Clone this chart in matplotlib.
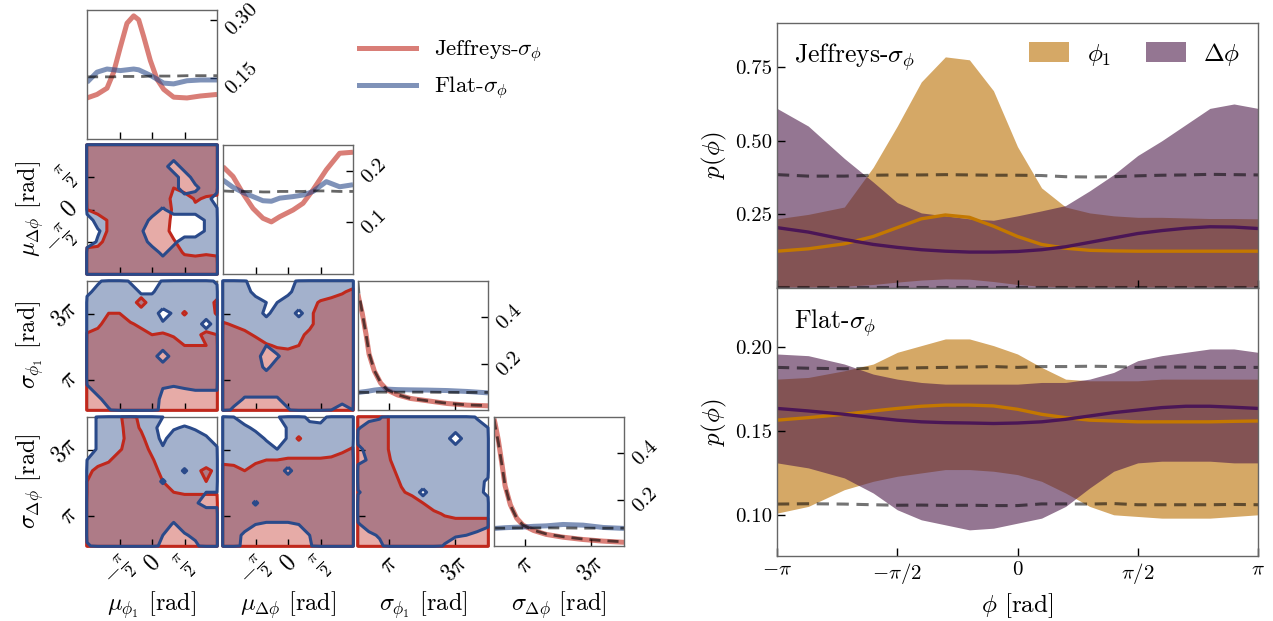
import numpy as np
import matplotlib
matplotlib.use("Agg")
import matplotlib.pyplot as plt
from matplotlib.patches import Patch
from matplotlib.lines import Line2D

plt.rcParams["font.family"] = "serif"
plt.rcParams["font.serif"] = ["cmr10", "DejaVu Serif"]
plt.rcParams["mathtext.fontset"] = "cm"
plt.rcParams["axes.unicode_minus"] = False
plt.rcParams["axes.formatter.use_mathtext"] = True

W, H = 1273, 621
PI = np.pi

JEFF = "#c0281c"
FLAT = "#2a4a8a"
GOLD = "#b96e00"
PURP = "#4d1b49"
GOLD_LINE = "#c47800"
PURP_LINE = "#4b1656"

# ---------------- corner plot data ----------------
mu_range = (-PI, PI)
sig_range = (0.25, 4 * PI)

# 1D marginal of mu_phi1 (x in units of pi)
mu1_x = [-1, -0.846, -0.692, -0.59, -0.487, -0.385, -0.282, -0.205, -0.128, -0.026, 0.077, 0.18, 0.333, 0.538, 0.744, 1]
mu1_jeff = [0.10, 0.109, 0.125, 0.166, 0.23, 0.291, 0.31, 0.30, 0.257, 0.196, 0.148, 0.122, 0.102, 0.10, 0.105, 0.109]
mu1_flat = [0.14, 0.166, 0.174, 0.172, 0.17, 0.172, 0.174, 0.172, 0.166, 0.158, 0.148, 0.138, 0.136, 0.144, 0.146, 0.146]
mu1_prior = [0.154, 0.154, 0.154, 0.154, 0.155, 0.155, 0.155, 0.155, 0.155, 0.156, 0.156, 0.156, 0.156, 0.157, 0.157, 0.157]

# 1D marginal of mu_dphi
mud_x = [-1, -0.846, -0.692, -0.538, -0.385, -0.256, -0.128, 0.077, 0.231, 0.385, 0.59, 0.795, 1]
mud_jeff = [0.208, 0.189, 0.156, 0.127, 0.108, 0.101, 0.111, 0.124, 0.137, 0.163, 0.202, 0.234, 0.236]
mud_flat = [0.182, 0.168, 0.158, 0.15, 0.142, 0.141, 0.147, 0.15, 0.153, 0.16, 0.179, 0.169, 0.173]
mud_prior = [0.161, 0.160, 0.160, 0.160, 0.159, 0.159, 0.160, 0.160, 0.160, 0.161, 0.161, 0.160, 0.160]

# 1D marginals of the sigmas
sig_x = [0.25, 0.35, 0.65, 1.0, 1.3, 1.8, 2.4, 3.0, 4.0, 5.2, 6.8, 8.7, 10.6, 12.57]
sig1_jeff = [0.50, 0.476, 0.418, 0.33, 0.241, 0.168, 0.116, 0.087, 0.065, 0.05, 0.04, 0.028, 0.021, 0.018]
sig1_jprior = [0.55, 0.50, 0.42, 0.33, 0.245, 0.17, 0.118, 0.088, 0.066, 0.05, 0.04, 0.029, 0.022, 0.019]
sig1_flat = [0.075, 0.076, 0.078, 0.08, 0.082, 0.086, 0.089, 0.09, 0.088, 0.087, 0.086, 0.084, 0.08, 0.074]
sig1_fprior = [0.076, 0.076, 0.076, 0.076, 0.076, 0.077, 0.077, 0.077, 0.077, 0.077, 0.077, 0.076, 0.076, 0.076]
sigd_jeff = [0.55, 0.53, 0.46, 0.355, 0.26, 0.178, 0.12, 0.09, 0.067, 0.05, 0.038, 0.028, 0.021, 0.016]
sigd_jprior = [0.55, 0.52, 0.45, 0.35, 0.26, 0.176, 0.12, 0.09, 0.068, 0.052, 0.04, 0.03, 0.023, 0.018]
sigd_flat = [0.076, 0.076, 0.077, 0.078, 0.079, 0.08, 0.081, 0.082, 0.085, 0.087, 0.093, 0.09, 0.08, 0.076]
sigd_fprior = [0.077, 0.077, 0.077, 0.077, 0.077, 0.078, 0.078, 0.078, 0.078, 0.078, 0.078, 0.077, 0.077, 0.077]

reg_mud_mu1_flat = ["9999999999999", "9999999999999", "9999999909999", "9999999990999",
                    "9999999990399", "9999999999990", "9999999499996", "0999993000069",
                    "0499960000069", "0699992039999", "9999999399999", "9999999999999",
                    "9999999999999"]
reg_mud_mu1_jeff = ["9999999999999", "9999999999999", "9999999999999", "9999999999999",
                    "9999999959999", "9999999930643", "5999999942300", "0069999930000",
                    "0069999920000", "0299999960000", "9999999994343", "9999999999999",
                    "9999999999999"]
reg_s1_mu1_flat = ["0399400699993", "2999944999999", "9999999999999", "9999999269999",
                   "9999999699929", "9999999999999", "9999999999999", "9999999099999",
                   "9999999999999", "9999999999999", "3999999545666", "0399999300000",
                   "0049999200000"]
reg_s1_mu1_jeff = ["0000000000000", "0000000000000", "0000090000007", "0055000006006",
                   "0399630000000", "6899985640375", "9999999995559", "9999999999999",
                   "9999999999999", "9999999999999", "9999999999999", "9999999999999",
                   "9999999999999"]
reg_s1_mud_flat = ["9960000799999", "9992003999999", "9999559999999", "9999399399999",
                   "9999999999999", "9999999999999", "9999599999999", "9999049999999",
                   "9999399999999", "9999999999999", "9999999999999", "9944449999999",
                   "9300004999505"]
reg_s1_mud_jeff = ["0000000000000", "0000000000047", "0000000026999", "0000000039999",
                   "6420000039999", "9974000379999", "9999643599999", "9999999999999",
                   "9999999999999", "9999999999999", "9999999999999", "9999999999999",
                   "9999999999999"]
reg_sd_mu1_flat = ["0699999500000", "0699999046420", "0699999399962", "0699999699996",
                   "5999999999999", "9999999994999", "9999999499999", "9999999999955",
                   "9999999999622", "9999999999999", "9999999949999", "9999999544799",
                   "3999999200399"]
reg_sd_mu1_jeff = ["0004920000000", "0003940000000", "0002970000000", "0004993000000",
                   "0249996000000", "3799999200373", "5999999500050", "5999999954444",
                   "9999999999999", "9999999999999", "9999999999999", "9999999999999",
                   "9999999999999"]
reg_sd_mud_flat = ["9500049920999", "9973006999999", "9999406999999", "9999959999995",
                   "9999999999999", "9999993999999", "9999999999999", "9999999999999",
                   "9994999999999", "9999999999999", "9995444599999", "9930000059999",
                   "9920000049999"]
reg_sd_mud_jeff = ["0000000000000", "0000000000000", "0000000600000", "0000000000036",
                   "3334556666799", "8757999999999", "9999999999999", "9999999999999",
                   "9999999999999", "9999999999999", "9999999999999", "9999999999999",
                   "9999999999999"]
reg_sd_s1_flat = ["0249999999940", "4999999999995", "9999999990999", "2999999999999",
                  "2699999999999", "9999999999999", "9999999999993", "4999993999992",
                  "9999999999999", "9999999999999", "4999999999996", "0369999996532",
                  "0039999940000"]
reg_sd_s1_jeff = ["9994000000000", "9994000000000", "9994000000000", "9994000000000",
                  "9995000000000", "9997200000000", "9999400000000", "9999630000000",
                  "9999995000000", "9999999742222", "9999999999999", "9999999999999",
                  "9999999999999"]

# ---------------- right panel data ----------------
phi_x = [-1, -0.87, -0.72, -0.6, -0.5, -0.4, -0.3, -0.2, -0.1, 0, 0.1, 0.2, 0.3, 0.4, 0.5, 0.6, 0.7, 0.8, 0.9, 1]

jf_phi1_hi = [0.235, 0.25, 0.275, 0.41, 0.55, 0.70, 0.785, 0.775, 0.67, 0.48, 0.34, 0.275, 0.255, 0.245, 0.24, 0.24, 0.238, 0.236, 0.236, 0.235]
jf_phi1_lo = [0.004, 0.004, 0.006, 0.012, 0.02, 0.027, 0.031, 0.03, 0.022, 0.012, 0.006, 0.004, 0.004, 0.004, 0.004, 0.004, 0.004, 0.004, 0.004, 0.004]
jf_dphi_hi = [0.61, 0.55, 0.44, 0.36, 0.29, 0.255, 0.245, 0.235, 0.23, 0.245, 0.262, 0.28, 0.33, 0.385, 0.45, 0.50, 0.555, 0.61, 0.625, 0.61]
jf_dphi_lo = [0.0] * 20
jf_phi1_med = [0.125, 0.133, 0.15, 0.175, 0.205, 0.235, 0.248, 0.24, 0.21, 0.175, 0.148, 0.135, 0.128, 0.126, 0.125, 0.125, 0.125, 0.125, 0.125, 0.125]
jf_dphi_med = [0.205, 0.19, 0.165, 0.148, 0.138, 0.13, 0.125, 0.122, 0.122, 0.124, 0.13, 0.14, 0.155, 0.17, 0.185, 0.195, 0.203, 0.208, 0.207, 0.202]
jf_prior_hi = [0.385, 0.38, 0.38, 0.383, 0.384, 0.384, 0.385, 0.384, 0.383, 0.383, 0.382, 0.378, 0.377, 0.378, 0.381, 0.383, 0.384, 0.386, 0.385, 0.384]
jf_prior_lo = [0.003] * 20

fl_phi1_hi = [0.181, 0.182, 0.186, 0.19, 0.197, 0.201, 0.205, 0.205, 0.201, 0.196, 0.188, 0.181, 0.18, 0.18, 0.18, 0.181, 0.181, 0.181, 0.181, 0.181]
fl_phi1_lo = [0.101, 0.105, 0.115, 0.12, 0.123, 0.125, 0.127, 0.127, 0.126, 0.124, 0.12, 0.113, 0.105, 0.10, 0.099, 0.098, 0.098, 0.098, 0.099, 0.10]
fl_dphi_hi = [0.196, 0.195, 0.19, 0.184, 0.181, 0.179, 0.178, 0.178, 0.178, 0.178, 0.179, 0.179, 0.181, 0.185, 0.192, 0.195, 0.197, 0.199, 0.199, 0.197]
fl_dphi_lo = [0.131, 0.128, 0.122, 0.113, 0.103, 0.097, 0.094, 0.091, 0.092, 0.095, 0.098, 0.105, 0.116, 0.126, 0.131, 0.132, 0.132, 0.132, 0.131, 0.131]
fl_phi1_med = [0.1565, 0.158, 0.16, 0.162, 0.1635, 0.1648, 0.1655, 0.1655, 0.165, 0.163, 0.16, 0.158, 0.1565, 0.156, 0.1555, 0.1555, 0.1555, 0.1555, 0.1558, 0.156]
fl_dphi_med = [0.1635, 0.162, 0.16, 0.158, 0.1565, 0.1555, 0.155, 0.1548, 0.1545, 0.1548, 0.1555, 0.157, 0.159, 0.161, 0.1625, 0.164, 0.1648, 0.1648, 0.1642, 0.1635]
fl_prior_hi = [0.188, 0.1875, 0.1872, 0.1875, 0.1875, 0.1878, 0.188, 0.1882, 0.1885, 0.188, 0.1885, 0.1885, 0.1887, 0.1885, 0.188, 0.1882, 0.1882, 0.188, 0.188, 0.188]
fl_prior_lo = [0.1064, 0.1066, 0.1064, 0.106, 0.1057, 0.1058, 0.1056, 0.1057, 0.1055, 0.1055, 0.1065, 0.1065, 0.1064, 0.1067, 0.106, 0.106, 0.106, 0.106, 0.1062, 0.106]


def box(x, y, w, h):
    return [x / W, 1 - (y + h) / H, w / W, h / H]


def style(ax):
    ax.tick_params(direction="in", length=5, width=1, colors="black", labelsize=14)
    for s in ax.spines.values():
        s.set_color("0.4")
        s.set_linewidth(1.0)


def region(ax, xr, yr, rows, color, alpha):
    z = np.array([[int(c) for c in r] for r in rows], dtype=float)
    z = np.pad(z, 1)
    xs = np.linspace(xr[0], xr[1], 13)
    ys = np.linspace(yr[1], yr[0], 13)
    dx = 0.006 * (xr[1] - xr[0])
    dy = 0.006 * (yr[1] - yr[0])
    xs = np.concatenate([[xr[0] - dx], xs, [xr[1] + dx]])
    ys = np.concatenate([[yr[1] + dy], ys, [yr[0] - dy]])
    X, Y = np.meshgrid(xs, ys)
    ax.contourf(X, Y, z, levels=[5, 9.5], colors=[color], alpha=alpha, zorder=1)
    return X, Y, z


def panel_2d(ax, xr, yr, flat_rows, jeff_rows):
    fb = region(ax, xr, yr, flat_rows, FLAT, 0.43)
    jr = region(ax, xr, yr, jeff_rows, JEFF, 0.39)
    cs = ax.contour(*jr, levels=[5], colors=[JEFF], linewidths=2.2, zorder=3)
    cs.set_clip_on(False)
    cs = ax.contour(*fb, levels=[5], colors=[FLAT], linewidths=2.2, zorder=4)
    cs.set_clip_on(False)
    ax.set_xlim(*xr)
    ax.set_ylim(*yr)


fig = plt.figure(figsize=(W / 100, H / 100), dpi=100)

col_x = [87, 223, 358, 494]
row_y = [10, 145, 281, 417]
cell = 130

ranges = [mu_range, mu_range, sig_range, sig_range]
mu_ticks = [-PI / 2, 0, PI / 2]
mu_labels = [r"$-\frac{\pi}{2}$", r"$0$", r"$\frac{\pi}{2}$"]
sig_ticks = [PI, 3 * PI]
sig_labels = [r"$\pi$", r"$3\pi$"]
ticks = [(mu_ticks, mu_labels), (mu_ticks, mu_labels), (sig_ticks, sig_labels), (sig_ticks, sig_labels)]
names = [r"$\mu_{\phi_1}$ [rad]", r"$\mu_{\Delta\phi}$ [rad]",
         r"$\sigma_{\phi_1}$ [rad]", r"$\sigma_{\Delta\phi}$ [rad]"]

regions = {
    (1, 0): (reg_mud_mu1_flat, reg_mud_mu1_jeff),
    (2, 0): (reg_s1_mu1_flat, reg_s1_mu1_jeff),
    (2, 1): (reg_s1_mud_flat, reg_s1_mud_jeff),
    (3, 0): (reg_sd_mu1_flat, reg_sd_mu1_jeff),
    (3, 1): (reg_sd_mud_flat, reg_sd_mud_jeff),
    (3, 2): (reg_sd_s1_flat, reg_sd_s1_jeff),
}

diag = [
    (np.array(mu1_x) * PI, mu1_jeff, mu1_flat, mu1_prior, mu1_prior, (-0.005, 0.325), [0.15, 0.30], ["0.15", "0.30"]),
    (np.array(mud_x) * PI, mud_jeff, mud_flat, mud_prior, mud_prior, (0, 0.25), [0.1, 0.2], ["0.1", "0.2"]),
    (sig_x, sig1_jeff, sig1_flat, sig1_jprior, sig1_fprior, (0, 0.557), [0.2, 0.4], ["0.2", "0.4"]),
    (sig_x, sigd_jeff, sigd_flat, sigd_jprior, sigd_fprior, (0, 0.557), [0.2, 0.4], ["0.2", "0.4"]),
]

for i in range(4):
    for j in range(i + 1):
        ax = fig.add_axes(box(col_x[j], row_y[i], cell, 129))
        style(ax)
        if i == j:
            xs, yj, yf, pj, pf, ylim, yt, ytl = diag[i]
            ax.plot(xs, yj, color=JEFF, alpha=0.6, lw=3.6, solid_capstyle="butt")
            ax.plot(xs, yf, color=FLAT, alpha=0.6, lw=3.6, solid_capstyle="butt")
            ax.plot(xs, pj, color="black", alpha=0.6, lw=2.0, ls=(0, (4, 2.5)))
            if i >= 2:
                ax.plot(xs, pf, color="black", alpha=0.6, lw=2.0, ls=(0, (4, 2.5)))
            ax.set_xlim(*ranges[i])
            ax.set_ylim(*ylim)
            ax.yaxis.tick_right()
            ax.set_yticks(yt)
            ax.set_yticklabels(ytl, rotation=45, fontsize=15, va="center", ha="left")
        else:
            fl, jf = regions[(i, j)]
            panel_2d(ax, ranges[j], ranges[i], fl, jf)
            ax.set_yticks(ticks[i][0])
            if j == 0:
                ax.set_yticklabels(ticks[i][1], rotation=45, fontsize=17, va="center", ha="right")
            else:
                ax.set_yticklabels([])
        ax.set_xticks(ticks[j][0])
        if i == 3:
            ax.set_xticklabels(ticks[j][1], rotation=45, fontsize=17, ha="center", va="top")
        else:
            ax.set_xticklabels([])

for j in range(4):
    fig.text((col_x[j] + cell / 2) / W, 1 - 605 / H, names[j], ha="center", va="center", fontsize=17.5)
for i in range(1, 4):
    fig.text(30 / W, 1 - (row_y[i] + 64) / H, names[i], ha="center", va="center", rotation=90, fontsize=17.5)

handles = [Line2D([], [], color=JEFF, alpha=0.6, lw=3.6), Line2D([], [], color=FLAT, alpha=0.6, lw=3.6)]
fig.legend(handles, [r"Jeffreys-$\sigma_\phi$", r"Flat-$\sigma_\phi$"], loc="upper left",
           bbox_to_anchor=(338 / W, 1 - 18 / H), frameon=False, fontsize=16.5,
           handlelength=2.5, labelspacing=0.45)

# ---------------- right panels ----------------
phi = np.array(phi_x) * PI
right = [
    (box(777, 23, 481, 265), jf_phi1_lo, jf_phi1_hi, jf_dphi_lo, jf_dphi_hi, jf_phi1_med, jf_dphi_med,
     jf_prior_lo, jf_prior_hi, (0, 0.9), [0.25, 0.50, 0.75], r"Jeffreys-$\sigma_\phi$"),
    (box(777, 288, 481, 268), fl_phi1_lo, fl_phi1_hi, fl_dphi_lo, fl_dphi_hi, fl_phi1_med, fl_dphi_med,
     fl_prior_lo, fl_prior_hi, (0.0754, 0.2354), [0.10, 0.15, 0.20], r"Flat-$\sigma_\phi$"),
]
for k, (pos, glo, ghi, plo, phi_hi, gmed, pmed, prlo, prhi, ylim, yt, title) in enumerate(right):
    ax = fig.add_axes(pos)
    style(ax)
    ax.tick_params(length=6, labelsize=15)
    ax.fill_between(phi, glo, ghi, color=GOLD, alpha=0.6, lw=0)
    ax.fill_between(phi, plo, phi_hi, color=PURP, alpha=0.6, lw=0)
    ax.plot(phi, prhi, color="black", alpha=0.55, lw=2.2, ls=(0, (4, 2.5)))
    ax.plot(phi, prlo, color="black", alpha=0.55, lw=2.2, ls=(0, (4, 2.5)))
    ax.plot(phi, gmed, color=GOLD_LINE, lw=2.4)
    ax.plot(phi, pmed, color=PURP_LINE, lw=2.4)
    ax.set_xlim(-PI, PI)
    ax.set_ylim(*ylim)
    ax.set_yticks(yt)
    ax.set_yticklabels(["%.2f" % v for v in yt], fontsize=15)
    ax.set_xticks([-PI, -PI / 2, 0, PI / 2, PI])
    ax.set_ylabel(r"$p(\phi)$", fontsize=18, labelpad=4)
    ax.text(0.035, 0.87, title, transform=ax.transAxes, fontsize=18.5, va="center", ha="left")
    if k == 0:
        ax.set_xticklabels([])
        ax.legend([Patch(color=GOLD, alpha=0.6, lw=0), Patch(color=PURP, alpha=0.6, lw=0)],
                  [r"$\phi_1$", r"$\Delta\phi$"], loc="upper right", ncol=2, frameon=False,
                  fontsize=18, handlelength=1.6, handleheight=0.9, columnspacing=1.4,
                  handletextpad=0.7, borderaxespad=0.3)
    else:
        ax.set_xticklabels([r"$-\pi$", r"$-\pi/2$", r"$0$", r"$\pi/2$", r"$\pi$"], fontsize=15)
        ax.set_xlabel(r"$\phi$ [rad]", fontsize=18, labelpad=4)

fig.savefig("out.png", dpi=100)
